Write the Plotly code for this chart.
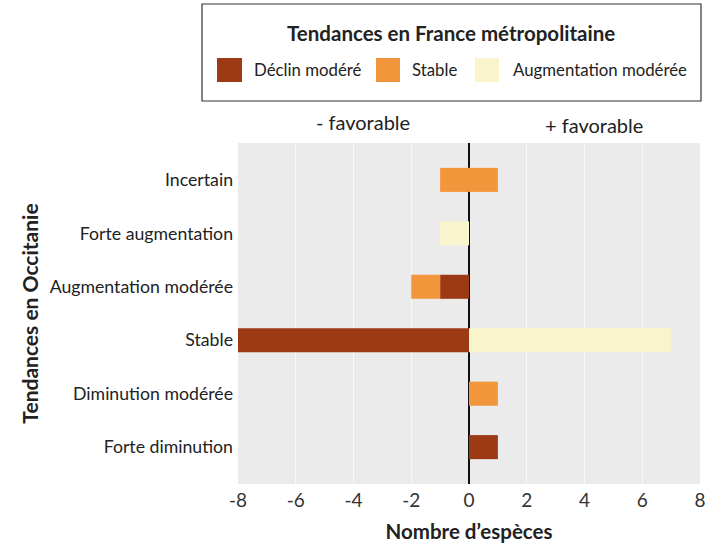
import plotly.graph_objects as go

categories = ["Forte diminution", "Diminution modérée", "Stable",
              "Augmentation modérée", "Forte augmentation", "Incertain"]
series_names = ["Déclin modéré", "Stable", "Augmentation modérée"]
colors = ["#9b3a14", "#f2963b", "#faf4cd"]

# negative side (- favorable) and positive side (+ favorable), per category
declin_neg = [0, 0, -8, -1, 0, 0]
stable_neg = [0, 0, 0, -1, 0, -1]
augm_neg = [0, 0, 0, 0, -1, 0]
declin_pos = [1, 0, 0, 0, 0, 0]
stable_pos = [0, 1, 0, 0, 0, 1]
augm_pos = [0, 0, 7, 0, 0, 0]

xticks = [-8, -6, -4, -2, 0, 2, 4, 6, 8]

FONT = "Lato"
TXT = "#222222"

W, H = 709, 546
L, R, T, B = 238, 9, 143, 62
pw, ph = W - L - R, H - T - B


def px(x):
    return (x - L) / pw


def py(y):
    return (H - B - y) / ph


fig = go.Figure()
neg = [declin_neg, stable_neg, augm_neg]
pos = [declin_pos, stable_pos, augm_pos]
for i, name in enumerate(series_names):
    for vals in (neg[i], pos[i]):
        fig.add_trace(go.Bar(
            y=categories, x=vals, orientation="h", name=name,
            marker=dict(color=colors[i], line=dict(width=0)),
            width=0.45, showlegend=False,
        ))

fig.update_layout(
    width=W, height=H, barmode="relative",
    margin=dict(l=L, r=R, t=T, b=B, autoexpand=False),
    paper_bgcolor="white", plot_bgcolor="#ebebeb",
    font=dict(family=FONT, size=17, color=TXT),
    showlegend=False,
)
fig.update_xaxes(
    range=[-8, 8], tickvals=xticks, ticktext=[str(v) for v in xticks],
    showgrid=True, gridcolor="#f8f8f8", gridwidth=1,
    zeroline=True, zerolinecolor="#111111", zerolinewidth=1.5,
    tickfont=dict(size=19, color="#333333"), ticks="", showline=False,
    ticklabelstandoff=3,
    title=dict(text="<b>Nombre d’espèces</b>", font=dict(size=20.5, color=TXT), standoff=14),
    fixedrange=True, automargin=False,
)
fig.update_yaxes(
    range=[-0.69, 5.69], categoryorder="array", categoryarray=categories,
    showgrid=False, ticks="", tickfont=dict(size=17.7, color=TXT),
    ticklabelstandoff=4,
    title=dict(text="<b>Tendances en Occitanie</b>", font=dict(size=21, color=TXT), standoff=5),
    fixedrange=True, automargin=False,
)

# legend box drawn as shapes + text
shapes = [dict(type="rect", xref="paper", yref="paper",
               x0=px(202), x1=px(701), y0=py(101), y1=py(4),
               line=dict(color="#333333", width=1.2), fillcolor="white", layer="above")]
sw = [(217, 242), (376, 400), (475, 499)]
lab_x = [252, 410, 511]
ann = [dict(text="<b>Tendances en France métropolitaine</b>", x=px(451), y=py(33),
            xref="paper", yref="paper", showarrow=False, font=dict(size=20.5, color=TXT),
            xanchor="center", yanchor="middle")]
for (a, b), lx, c, n in zip(sw, lab_x, colors, series_names):
    shapes.append(dict(type="rect", xref="paper", yref="paper",
                       x0=px(a), x1=px(b), y0=py(82), y1=py(58),
                       line=dict(width=0), fillcolor=c, layer="above"))
    ann.append(dict(text=n, x=px(lx), y=py(70), xref="paper", yref="paper",
                    showarrow=False, font=dict(size=16.8, color=TXT),
                    xanchor="left", yanchor="middle"))
ann.append(dict(text="- favorable", x=px(363), y=py(122), xref="paper", yref="paper",
                showarrow=False, font=dict(size=20, color=TXT), xanchor="center", yanchor="middle"))
ann.append(dict(text="+ favorable", x=px(594), y=py(125), xref="paper", yref="paper",
                showarrow=False, font=dict(size=20, color=TXT), xanchor="center", yanchor="middle"))
fig.update_layout(shapes=shapes, annotations=ann)

fig.write_html("out.html", config={"displayModeBar": False},
               post_script="document.body.style.margin='0';document.body.style.padding='0';")
